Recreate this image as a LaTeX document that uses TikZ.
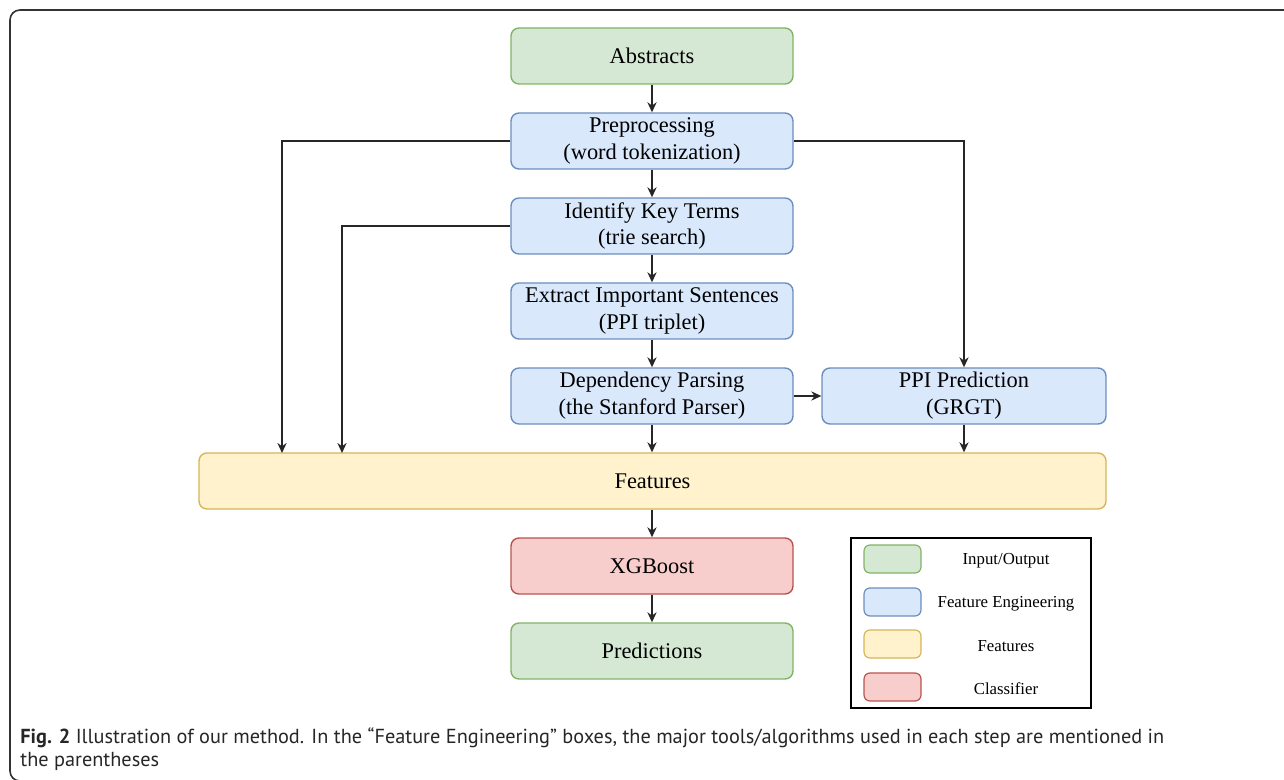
\documentclass[tikz,border=0pt]{standalone}
\usepackage{fontspec}
\setmainfont{Liberation Serif}
\newfontfamily\capfont{PT Sans}
\usetikzlibrary{arrows.meta}

\definecolor{ioFill}{HTML}{D5E8D4}
\definecolor{ioLine}{HTML}{82B366}
\definecolor{feFill}{HTML}{DAE8FC}
\definecolor{feLine}{HTML}{6C8EBF}
\definecolor{ftFill}{HTML}{FFF2CC}
\definecolor{ftLine}{HTML}{D6B656}
\definecolor{clFill}{HTML}{F8CECC}
\definecolor{clLine}{HTML}{B85450}

\begin{document}
\begin{tikzpicture}[x=0.5pt,y=-0.5pt,
		box/.style={draw, rounded corners=4pt, line width=0.7pt, minimum width=141pt, minimum height=28pt, inner sep=0pt, align=center, font=\fontsize{11.2}{13.4}\selectfont},
		io/.style={box, draw=ioLine, fill=ioFill},
		fe/.style={box, draw=feLine, fill=feFill},
		ft/.style={box, draw=ftLine, fill=ftFill},
		cl/.style={box, draw=clLine, fill=clFill},
		key/.style={draw, rounded corners=3pt, line width=0.6pt, minimum width=28.5pt, minimum height=14pt, inner sep=0pt},
		keytext/.style={font=\fontsize{8.4}{10}\selectfont, inner sep=0pt},
		arr/.style={-{Stealth[length=5pt,width=4.6pt]}, line width=0.75pt, draw=black!85}]
		\useasboundingbox (0,0) rectangle (1284,780);
		\clip (0,0) rectangle (1284,780);
		% outer frame
		\draw[line width=0.8pt, draw=black!80, rounded corners=5pt] (10,10) rectangle (1320,781);

		% main column
		\node[io] (abstracts) at (652,56) {Abstracts};
		\node[fe] (prep) at (652,141) {Preprocessing\\(word tokenization)};
		\node[fe] (keyterms) at (652,226) {Identify Key Terms\\(trie search)};
		\node[fe] (sentences) at (652,311) {Extract Important Sentences\\(PPI triplet)};
		\node[fe] (parsing) at (652,396) {Dependency Parsing\\(the Stanford Parser)};
		\node[fe, minimum width=142pt] (ppi) at (964,396) {PPI Prediction\\(GRGT)};
		\node[ft, minimum width=453.5pt] (features) at (652.5,481) {Features};
		\node[cl] (xgb) at (652,566) {XGBoost};
		\node[io] (pred) at (652,651) {Predictions};

		\coordinate (f1) at (282,453);
		\coordinate (f2) at (342,453);

		\draw[arr] (abstracts) -- (prep);
		\draw[arr] (prep) -- (keyterms);
		\draw[arr] (keyterms) -- (sentences);
		\draw[arr] (sentences) -- (parsing);
		\draw[arr] (parsing) -- (features.north -| parsing);
		\draw[arr] (parsing) -- (ppi);
		\draw[arr] (ppi.south) -- (features.north -| ppi.south);
		\draw[arr] (prep.west) -| (f1);
		\draw[arr] (keyterms.west) -| (f2);
		\draw[arr] (prep.east) -| (ppi.north);
		\draw[arr] (features.south -| xgb) -- (xgb);
		\draw[arr] (xgb) -- (pred);

		% legend
		\node[draw, line width=0.7pt, minimum width=120pt, minimum height=85pt, inner sep=0pt] (legend) at (971,623) {};
		\node[key, draw=ioLine, fill=ioFill] (k1) at (892.5,559) {};
		\node[key, draw=feLine, fill=feFill] (k2) at (892.5,602) {};
		\node[key, draw=ftLine, fill=ftFill] (k3) at (892.5,644) {};
		\node[key, draw=clLine, fill=clFill] (k4) at (892.5,687) {};
		\node[keytext] (t1) at (1006,561) {Input/Output};
		\node[keytext] (t2) at (1006,604) {Feature Engineering};
		\node[keytext] (t3) at (1006,646) {Features};
		\node[keytext] (t4) at (1006,689) {Classifier};

		% caption
		\node[anchor=north west, align=left, inner sep=0pt, font=\capfont\fontsize{10.15}{11.6}\selectfont, text=black!85] (caption) at (20,727)
		{\textbf{Fig. 2} Illustration of our method. In the “Feature Engineering” boxes, the major tools/algorithms used in each step are mentioned in\\the parentheses};
\end{tikzpicture}
\end{document}
